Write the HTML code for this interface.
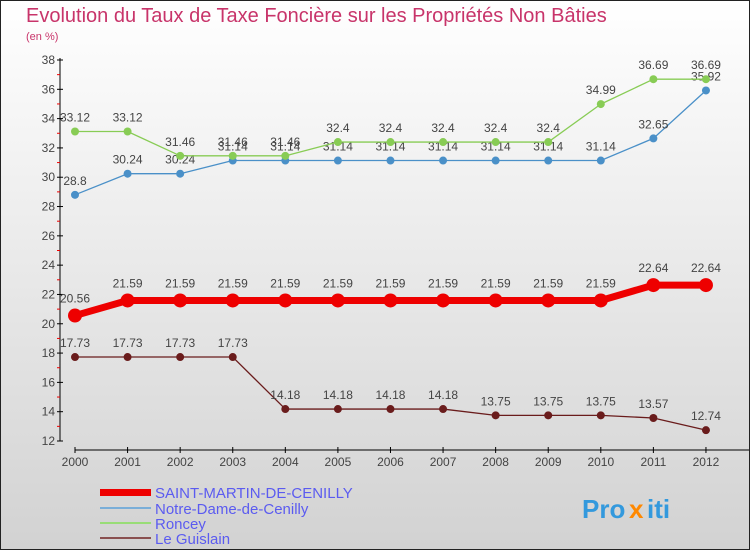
<!DOCTYPE html>
<html><head><meta charset="utf-8"><style>
body{margin:0}
#c{width:750px;height:550px;position:relative;overflow:hidden;font-family:"Liberation Sans",sans-serif}
</style></head><body>
<div id="c">
<svg id="s" width="750" height="550" xmlns="http://www.w3.org/2000/svg">
<defs><linearGradient id="bg" x1="0" y1="0" x2="0" y2="1"><stop offset="0" stop-color="#ffffff"/><stop offset="1" stop-color="#d2d2d2"/></linearGradient></defs>
<rect x="0.5" y="0.5" width="749" height="549" fill="url(#bg)" stroke="#222"/>
<text x="26" y="22" font-size="20" fill="#c8346a">Evolution du Taux de Taxe Foncière sur les Propriétés Non Bâties</text>
<text x="26" y="40" font-size="11" fill="#c8346a">(en %)</text>
<g id="axes"></g><g id="series"></g>
<g>
<rect x="100" y="489" width="51" height="7" fill="#ee0000"/>
<text x="155" y="498" font-size="15" fill="#5b5bf0">SAINT-MARTIN-DE-CENILLY</text>
<rect x="100" y="507" width="51" height="2" fill="#7aaed8"/>
<text x="155" y="514" font-size="15" fill="#5b5bf0">Notre-Dame-de-Cenilly</text>
<rect x="100" y="522" width="51" height="2" fill="#99dd77"/>
<text x="155" y="529" font-size="15" fill="#5b5bf0">Roncey</text>
<rect x="100" y="537" width="51" height="2" fill="#8a5050"/>
<text x="155" y="544" font-size="15" fill="#5b5bf0">Le Guislain</text>
</g>
<g font-size="26" font-weight="bold">
<text x="582" y="518" fill="#3399dd">Pro</text><text x="629" y="518" fill="#ff8800">x</text><text x="647" y="518" fill="#3399dd">iti</text>
</g>
</svg>
</div>
<script>
const years=["2000","2001","2002","2003","2004","2005","2006","2007","2008","2009","2010","2011","2012"];
const yTicks=[12,14,16,18,20,22,24,26,28,30,32,34,36,38];
const stMartin=[20.56,21.59,21.59,21.59,21.59,21.59,21.59,21.59,21.59,21.59,21.59,22.64,22.64];
const notreDame=[28.8,30.24,30.24,31.14,31.14,31.14,31.14,31.14,31.14,31.14,31.14,32.65,35.92];
const roncey=[33.12,33.12,31.46,31.46,31.46,32.4,32.4,32.4,32.4,32.4,34.99,36.69,36.69];
const guislain=[17.73,17.73,17.73,17.73,14.18,14.18,14.18,14.18,13.75,13.75,13.75,13.57,12.74];
const NS="http://www.w3.org/2000/svg";
const X=i=>75+i*52.58, Y=v=>441-(v-12)*14.654;
function mk(t,a,p){const e=document.createElementNS(NS,t);for(const k in a)e.setAttribute(k,a[k]);p.appendChild(e);return e;}
const ax=document.getElementById('axes');
let l=mk('line',{x1:60,y1:58,x2:60,y2:441,stroke:'#000'},ax);


yTicks.forEach(v=>{
 mk('line',{x1:57,x2:63,y1:Y(v),y2:Y(v),stroke:'#000'},ax);
 if(v<38)mk('line',{x1:57,x2:60,y1:Y(v+1),y2:Y(v+1),stroke:'#e00'},ax);
 const t=mk('text',{x:55,y:Y(v)+4,'font-size':12,fill:'#444','text-anchor':'end'},ax);t.textContent=v;
 
 
});
l=mk('line',{x1:75,y1:450,x2:749,y2:450,stroke:'#000'},ax);


years.forEach((y,i)=>{
 mk('line',{x1:X(i),x2:X(i),y1:447,y2:453,stroke:'#000'},ax);
 const t=mk('text',{x:X(i),y:466,'font-size':12,fill:'#444','text-anchor':'middle'},ax);t.textContent=y;
 
 
});
const sg=document.getElementById('series');
function draw(vals,col,w,r,name){
 const g=mk('g',{},sg);
 
 
 mk('polyline',{points:vals.map((v,i)=>X(i)+','+Y(v)).join(' '),fill:'none',stroke:col,'stroke-width':w,'stroke-linejoin':'round'},g);
 vals.forEach((v,i)=>{
  const c=mk('circle',{cx:X(i),cy:Y(v),r:r,fill:col},g);
  
  
  const t=mk('text',{x:X(i),y:Y(v)-(r+6),'font-size':12,fill:'#444','text-anchor':'middle'},g);t.textContent=v;
  
  
 });
}
draw(notreDame,'#4a90c8',1.3,4,'series-notre-dame');
draw(roncey,'#88cc55',1.3,4,'series-roncey');
draw(guislain,'#6a1c1c',1.3,4,'series-le-guislain');
draw(stMartin,'#ee0000',7,7,'series-saint-martin');
</script>
</body></html>
